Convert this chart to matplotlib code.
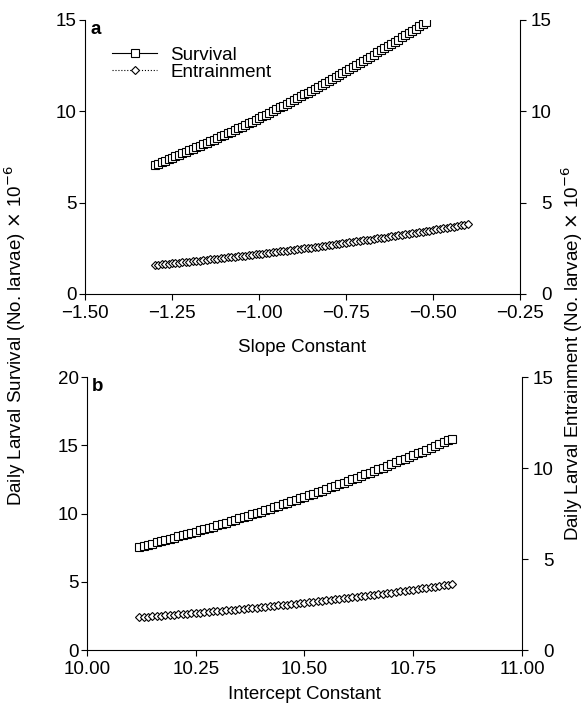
import numpy as np
import matplotlib
matplotlib.use('Agg')
import matplotlib.pyplot as plt
from matplotlib.ticker import FuncFormatter

plt.rcParams['font.family'] = ['Liberation Sans', 'DejaVu Sans']
plt.rcParams['font.size'] = 13.5

# Panel a: slope constant sweep (step 0.01)
slope_surv = np.round(np.arange(-1.30, -0.515, 0.01), 2)
survival_a = [7.06, 7.14, 7.21, 7.29, 7.37, 7.45, 7.53, 7.61, 7.69, 7.77,
              7.86, 7.94, 8.02, 8.11, 8.19, 8.28, 8.36, 8.45, 8.54, 8.62,
              8.71, 8.80, 8.89, 8.98, 9.07, 9.16, 9.26, 9.35, 9.44, 9.54,
              9.63, 9.73, 9.82, 9.92, 10.01, 10.11, 10.21, 10.31, 10.41, 10.51,
              10.61, 10.71, 10.81, 10.92, 11.02, 11.12, 11.23, 11.33, 11.44, 11.55,
              11.65, 11.76, 11.87, 11.98, 12.09, 12.20, 12.31, 12.42, 12.53, 12.64,
              12.76, 12.87, 12.98, 13.10, 13.22, 13.33, 13.45, 13.57, 13.68, 13.80,
              13.92, 14.04, 14.16, 14.28, 14.41, 14.53, 14.65, 14.78, 14.90]
slope_entr = np.round(np.arange(-1.30, -0.395, 0.01), 2)
entrain_a = [1.59, 1.61, 1.63, 1.64, 1.66, 1.68, 1.70, 1.72, 1.74, 1.76,
             1.77, 1.79, 1.81, 1.83, 1.85, 1.87, 1.89, 1.91, 1.93, 1.95,
             1.97, 2.00, 2.02, 2.04, 2.06, 2.08, 2.10, 2.12, 2.15, 2.17,
             2.19, 2.21, 2.23, 2.26, 2.28, 2.30, 2.33, 2.35, 2.37, 2.40,
             2.42, 2.44, 2.47, 2.49, 2.52, 2.54, 2.57, 2.59, 2.62, 2.64,
             2.67, 2.69, 2.72, 2.74, 2.77, 2.80, 2.82, 2.85, 2.88, 2.90,
             2.93, 2.96, 2.98, 3.01, 3.04, 3.07, 3.09, 3.12, 3.15, 3.18,
             3.21, 3.24, 3.26, 3.29, 3.32, 3.35, 3.38, 3.41, 3.44, 3.47,
             3.50, 3.53, 3.56, 3.59, 3.62, 3.65, 3.68, 3.71, 3.75, 3.78,
             3.81]

# Panel b: intercept constant sweep (step 0.01)
intercept = np.round(np.arange(10.12, 10.845, 0.01), 2)
survival_b = [7.55, 7.63, 7.71, 7.80, 7.88, 7.97, 8.05, 8.14, 8.23, 8.32,
              8.41, 8.50, 8.59, 8.68, 8.77, 8.86, 8.96, 9.05, 9.15, 9.25,
              9.34, 9.44, 9.54, 9.64, 9.74, 9.84, 9.94, 10.05, 10.15, 10.25,
              10.36, 10.47, 10.57, 10.68, 10.79, 10.90, 11.01, 11.12, 11.23, 11.34,
              11.46, 11.57, 11.68, 11.80, 11.92, 12.03, 12.15, 12.27, 12.39, 12.51,
              12.63, 12.75, 12.88, 13.00, 13.12, 13.25, 13.37, 13.50, 13.63, 13.76,
              13.89, 14.02, 14.15, 14.28, 14.41, 14.54, 14.68, 14.81, 14.95, 15.08,
              15.22, 15.36, 15.50]
entrain_b = [1.81, 1.83, 1.84, 1.86, 1.88, 1.89, 1.91, 1.93, 1.95, 1.96,
             1.98, 2.00, 2.02, 2.04, 2.06, 2.08, 2.10, 2.12, 2.14, 2.16,
             2.18, 2.20, 2.22, 2.24, 2.27, 2.29, 2.31, 2.33, 2.36, 2.38,
             2.40, 2.43, 2.45, 2.48, 2.50, 2.52, 2.55, 2.57, 2.60, 2.63,
             2.65, 2.68, 2.70, 2.73, 2.76, 2.79, 2.81, 2.84, 2.87, 2.90,
             2.93, 2.96, 2.98, 3.01, 3.04, 3.07, 3.10, 3.13, 3.16, 3.20,
             3.23, 3.26, 3.29, 3.32, 3.35, 3.39, 3.42, 3.45, 3.48, 3.52,
             3.55, 3.59, 3.62]

sq = dict(marker='s', markersize=5.5, markerfacecolor='white', markeredgecolor='black',
          markeredgewidth=0.8, color='black', linewidth=0.8)
dm = dict(marker='D', markersize=4.3, markerfacecolor='white', markeredgecolor='black',
          markeredgewidth=0.8, color='black', linewidth=0.8, linestyle=':')

minus_fmt = FuncFormatter(lambda v, pos: ('%.2f' % v).replace('-', '\u2212'))


def style_axes(ax, ax2):
    ax.spines['top'].set_visible(False)
    ax.spines['right'].set_visible(False)
    ax2.spines['top'].set_visible(False)
    ax2.spines['left'].set_visible(False)
    ax2.spines['bottom'].set_visible(False)
    ax.tick_params(direction='out', length=4, width=0.8, labelsize=13.5)
    ax.tick_params(axis='y', pad=2)
    ax.tick_params(axis='x', pad=4)
    # right-hand labels are right-aligned, as in the original figure
    ax2.tick_params(direction='out', length=4, width=0.8, labelsize=13.5, pad=19)
    for lab in ax2.get_yticklabels():
        lab.set_horizontalalignment('right')
    ax.xaxis.set_major_formatter(minus_fmt)


fig = plt.figure(figsize=(5.87, 7.07), dpi=100)

# Panel a
ax1 = fig.add_axes([0.1448, 0.5842, 0.741, 0.3876])
ax1r = ax1.twinx()
l1, = ax1.plot(slope_surv, survival_a, label='Survival', **sq)
l2, = ax1r.plot(slope_entr, entrain_a, label='Entrainment', **dm)
ax1.set_xlim(-1.5, -0.25)
ax1.set_ylim(0, 15)
ax1r.set_ylim(0, 15)
ax1.set_xticks([-1.5, -1.25, -1.0, -0.75, -0.5, -0.25])
ax1.set_yticks([0, 5, 10, 15])
ax1r.set_yticks([0, 5, 10, 15])
ax1.set_xlabel('Slope Constant', labelpad=12)
style_axes(ax1, ax1r)
ax1.text(0.012, 0.995, 'a', transform=ax1.transAxes, fontweight='bold',
         va='top', ha='left')
ax1.legend(handles=[l1, l2], loc='upper left', bbox_to_anchor=(0.045, 0.93),
           frameon=False, handlelength=2.4, handletextpad=0.7,
           labelspacing=0.0, borderaxespad=0)

# Panel b
ax2 = fig.add_axes([0.1482, 0.0806, 0.741, 0.386])
ax2r = ax2.twinx()
ax2.plot(intercept, survival_b, **sq)
ax2r.plot(intercept, entrain_b, **dm)
ax2.set_xlim(10.0, 11.0)
ax2.set_ylim(0, 20)
ax2r.set_ylim(0, 15)
ax2.set_xticks([10.0, 10.25, 10.5, 10.75, 11.0])
ax2.set_yticks([0, 5, 10, 15, 20])
ax2r.set_yticks([0, 5, 10, 15])
ax2.set_xlabel('Intercept Constant', labelpad=6)
style_axes(ax2, ax2r)
ax2.text(0.012, 0.995, 'b', transform=ax2.transAxes, fontweight='bold',
         va='top', ha='left')

fig.text(0.026, 0.525, r'Daily Larval Survival (No. larvae) $\times$ 10$^{-6}$',
         rotation=90, ha='center', va='center')
fig.text(0.975, 0.5, r'Daily Larval Entrainment (No. larvae) $\times$ 10$^{-6}$',
         rotation=90, ha='center', va='center')

fig.savefig('out.png', dpi=100)
